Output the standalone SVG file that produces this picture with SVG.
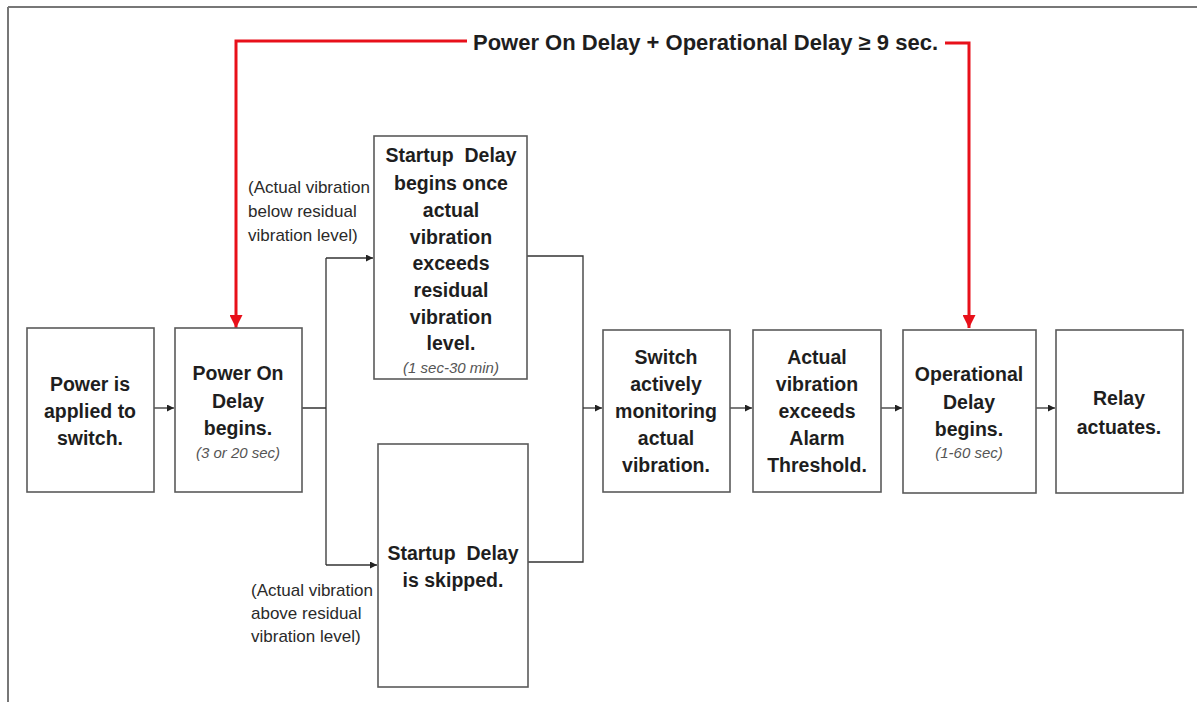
<svg xmlns="http://www.w3.org/2000/svg" width="1197" height="702" viewBox="0 0 1197 702">
<defs>
<marker id="ah" viewBox="0 0 10 10" refX="10" refY="5" markerWidth="7" markerHeight="7" markerUnits="userSpaceOnUse" orient="auto"><path d="M0,0 L10,5 L0,10 z" fill="#222"/></marker>
<marker id="rah" viewBox="0 0 10 10" refX="10" refY="5" markerWidth="14" markerHeight="13" markerUnits="userSpaceOnUse" orient="auto"><path d="M0,0 L10,5 L0,10 z" fill="#e8101a"/></marker>
</defs>
<style>
.box{fill:#fff;stroke:#5a5a5a;stroke-width:1.6}
.t{font-family:"Liberation Sans",Arial,sans-serif;font-weight:bold;font-size:19.5px;fill:#1e1e1e;text-anchor:middle}
.i{font-family:"Liberation Sans",Arial,sans-serif;font-style:italic;font-size:15px;fill:#555;text-anchor:middle}
.lab{font-family:"Liberation Sans",Arial,sans-serif;font-size:17px;fill:#2a2a2a}
.c{fill:none;stroke:#333;stroke-width:1.3}
.r{fill:none;stroke:#e8101a;stroke-width:3}
</style>
<rect width="1197" height="702" fill="#fff"/>
<g id="frame">
<path d="M8,7 H1197 M8,7 V702" fill="none" stroke="#777" stroke-width="2"/>
</g>
<g id="connectors">
<path class="c" d="M154,408 H174" marker-end="url(#ah)"/>
<path class="c" d="M302,408 H326 M326,258 V565"/>
<path class="c" d="M326,258 H373" marker-end="url(#ah)"/>
<path class="c" d="M326,565 H377" marker-end="url(#ah)"/>
<path class="c" d="M527,256 H583 V562 H528"/>
<path class="c" d="M583,408 H602" marker-end="url(#ah)"/>
<path class="c" d="M730,408 H752" marker-end="url(#ah)"/>
<path class="c" d="M881,408 H902" marker-end="url(#ah)"/>
<path class="c" d="M1036,408 H1055" marker-end="url(#ah)"/>
<path class="r" d="M467,41 H236 V328" marker-end="url(#rah)"/>
<path class="r" d="M945,43 H969 V328" marker-end="url(#rah)"/>
</g>
<g id="title">
<text x="473" y="50" font-family="'Liberation Sans',Arial,sans-serif" font-weight="bold" font-size="21.5" fill="#1e1e1e" textLength="465" lengthAdjust="spacingAndGlyphs">Power On Delay + Operational Delay ≥ 9 sec.</text>
</g>
<g id="n1">
<rect class="box" x="27" y="328" width="127" height="164"/>
<text class="t" x="90" y="391">Power is</text>
<text class="t" x="90" y="418">applied to</text>
<text class="t" x="90" y="445">switch.</text>
</g>
<g id="n2">
<rect class="box" x="175" y="328" width="127" height="164"/>
<text class="t" x="238" y="380">Power On</text>
<text class="t" x="238" y="408">Delay</text>
<text class="t" x="238" y="435">begins.</text>
<text class="i" x="238" y="458">(3 or 20 sec)</text>
</g>
<g id="lab1">
<text class="lab" x="248" y="193">(Actual vibration</text>
<text class="lab" x="248" y="217">below residual</text>
<text class="lab" x="248" y="241">vibration level)</text>
</g>
<g id="n3">
<rect class="box" x="374" y="136" width="153" height="243"/>
<text class="t" x="451" y="162" xml:space="preserve">Startup  Delay</text>
<text class="t" x="451" y="190">begins once</text>
<text class="t" x="451" y="217">actual</text>
<text class="t" x="451" y="244">vibration</text>
<text class="t" x="451" y="270">exceeds</text>
<text class="t" x="451" y="297">residual</text>
<text class="t" x="451" y="324">vibration</text>
<text class="t" x="451" y="350">level.</text>
<text class="i" x="451" y="373">(1 sec-30 min)</text>
</g>
<g id="n4">
<rect class="box" x="378" y="444" width="150" height="243"/>
<text class="t" x="453" y="560" xml:space="preserve">Startup  Delay</text>
<text class="t" x="453" y="587">is skipped.</text>
</g>
<g id="lab2">
<text class="lab" x="251" y="596">(Actual vibration</text>
<text class="lab" x="251" y="619">above residual</text>
<text class="lab" x="251" y="642">vibration level)</text>
</g>
<g id="n5">
<rect class="box" x="603" y="330" width="127" height="162"/>
<text class="t" x="666" y="364">Switch</text>
<text class="t" x="666" y="391">actively</text>
<text class="t" x="666" y="418">monitoring</text>
<text class="t" x="666" y="445">actual</text>
<text class="t" x="666" y="472">vibration.</text>
</g>
<g id="n6">
<rect class="box" x="753" y="330" width="128" height="162"/>
<text class="t" x="817" y="364">Actual</text>
<text class="t" x="817" y="391">vibration</text>
<text class="t" x="817" y="418">exceeds</text>
<text class="t" x="817" y="445">Alarm</text>
<text class="t" x="817" y="472">Threshold.</text>
</g>
<g id="n7">
<rect class="box" x="903" y="330" width="133" height="163"/>
<text class="t" x="969" y="381">Operational</text>
<text class="t" x="969" y="409">Delay</text>
<text class="t" x="969" y="436">begins.</text>
<text class="i" x="969" y="458">(1-60 sec)</text>
</g>
<g id="n8">
<rect class="box" x="1056" y="330" width="127" height="163"/>
<text class="t" x="1119" y="405">Relay</text>
<text class="t" x="1119" y="434">actuates.</text>
</g>
</svg>
